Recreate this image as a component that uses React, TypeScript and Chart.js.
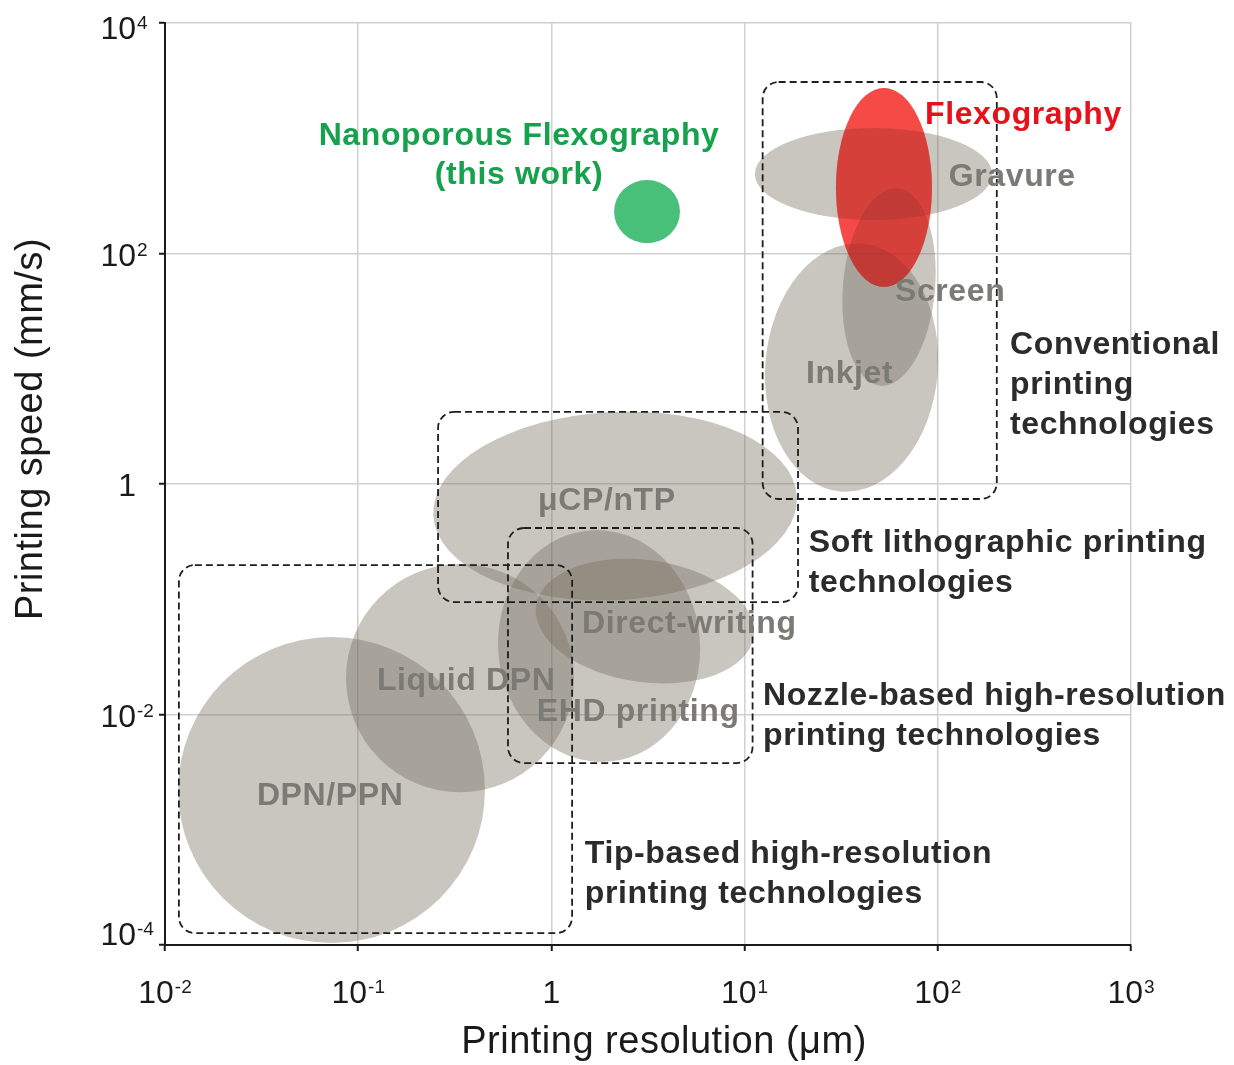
import React, { useEffect, useRef } from 'react';
import { Chart, registerables } from 'chart.js';

Chart.register(...registerables);

const FONT = "'Liberation Sans', Arial, Helvetica, sans-serif";

// ---- axes ----
const xTickValues = [0.01, 0.1, 1, 10, 100, 1000];
const xTickLabels = ['10^-2', '10^-1', '1', '10^1', '10^2', '10^3'];
const yTickValues = [1e-4, 1e-2, 1, 100, 1e4];
const yTickLabels = ['10^-4', '10^-2', '1', '10^2', '10^4'];
const xTitle = 'Printing resolution (μm)';
const yTitle = 'Printing speed (mm/s)';

// ---- technology regions: resolution range (µm) × speed range (mm/s) ----
const techNames = ['DPN/PPN', 'Liquid DPN', 'μCP/nTP', 'EHD printing', 'Direct-writing', 'Inkjet', 'Gravure', 'Screen', 'Flexography', 'Nanoporous Flexography'];
const techKind = ['other', 'other', 'other', 'other', 'other', 'other', 'other', 'other', 'flexo', 'this'];
const resMin = [0.0117, 0.0865, 0.244, 0.53, 0.822, 12.8, 11.3, 32.3, 29.7, 2.11];
const resMax = [0.453, 1.31, 18.7, 5.88, 11.3, 100, 191, 96.8, 93.3, 4.63];
const speedMin = [1.04e-4, 0.00212, 0.0985, 0.00387, 0.0191, 0.853, 195, 7.08, 51.2, 123];
const speedMax = [0.047, 0.202, 4.22, 0.399, 0.219, 123, 1227, 370, 2730, 434];
const tiltDeg = [0, 0, -3, -5, 8, 5, 0, 5, 0, 0];

// ---- technology groups (dashed boxes) ----
const groupNames = ['Conventional printing technologies', 'Soft lithographic printing technologies', 'Nozzle-based high-resolution printing technologies', 'Tip-based high-resolution printing technologies'];
const groupResMin = [12.4, 0.259, 0.596, 0.0118];
const groupResMax = [202, 18.9, 11.0, 1.28];
const groupSpeedMin = [0.741, 0.0946, 0.00379, 1.27e-4];
const groupSpeedMax = [3076, 4.22, 0.415, 0.198];

// ---- annotation labels (anchor in data coordinates) ----
const labelLines = [
  ['Nanoporous Flexography', '(this work)'],
  ['Flexography'],
  ['Gravure'],
  ['Screen'],
  ['Inkjet'],
  ['Conventional', 'printing', 'technologies'],
  ['μCP/nTP'],
  ['Soft lithographic printing', 'technologies'],
  ['Direct-writing'],
  ['Nozzle-based high-resolution', 'printing technologies'],
  ['Liquid DPN'],
  ['EHD printing'],
  ['DPN/PPN'],
  ['Tip-based high-resolution', 'printing technologies'],
];
const labelKind = ['this', 'flexo', 'tech', 'tech', 'tech', 'group', 'tech', 'group', 'tech', 'group', 'tech', 'tech', 'tech', 'group'];
const labelRes = [0.68, 85.9, 114, 60, 20.8, 236.5, 0.853, 21.5, 1.44, 12.45, 0.125, 0.841, 0.0299, 1.49];
const labelSpeed = [874, 1330, 385, 38.7, 7.52, 13.4, 0.594, 0.257, 0.0509, 0.01208, 0.01633, 0.00879, 0.00164, 5.14e-4];

// ---- styles ----
const fillStyles: Record<string, string> = {
  other: 'rgba(117,109,94,0.39)',
  flexo: 'rgb(245,74,70)',
  this: '#48c07a',
};
const labelStyles: Record<string, { color: string; align: CanvasTextAlign; lh: number }> = {
  this: { color: '#16a14c', align: 'center', lh: 39 },
  flexo: { color: '#e8101a', align: 'left', lh: 40 },
  tech: { color: '#7c7a75', align: 'left', lh: 40 },
  group: { color: '#2b2b2b', align: 'left', lh: 40 },
};

function drawPow(ctx: CanvasRenderingContext2D, label: string, x: number, baseline: number, mode: 'center' | 'right') {
  const [base, exp] = label.split('^');
  ctx.font = `32px ${FONT}`;
  const wb = ctx.measureText(base).width;
  ctx.font = `19px ${FONT}`;
  const we = exp ? ctx.measureText(exp).width + 1 : 0;
  const start = mode === 'center' ? x - (wb + we) / 2 : x - wb;
  ctx.textAlign = 'left';
  ctx.textBaseline = 'alphabetic';
  ctx.font = `32px ${FONT}`;
  ctx.fillText(base, start, baseline);
  if (exp) {
    ctx.font = `19px ${FONT}`;
    ctx.fillText(exp, start + wb + 1, baseline - 10);
  }
}

const regionsPlugin = {
  id: 'regions',
  beforeDatasetsDraw(chart: any) {
    const { ctx, scales } = chart;
    const x = scales.x, y = scales.y;
    ctx.save();
    techNames.forEach((_, i) => {
      const x0 = x.getPixelForValue(resMin[i]);
      const x1 = x.getPixelForValue(resMax[i]);
      const y0 = y.getPixelForValue(speedMax[i]);
      const y1 = y.getPixelForValue(speedMin[i]);
      const path = () => {
        ctx.beginPath();
        ctx.ellipse((x0 + x1) / 2, (y0 + y1) / 2, Math.abs(x1 - x0) / 2, Math.abs(y1 - y0) / 2, (tiltDeg[i] * Math.PI) / 180, 0, Math.PI * 2);
      };
      const kind = techKind[i];
      ctx.fillStyle = fillStyles[kind];
      if (kind === 'flexo') {
        // translucent red that darkens what lies beneath it
        path();
        ctx.globalCompositeOperation = 'multiply';
        ctx.fill();
        ctx.globalCompositeOperation = 'source-over';
        ctx.globalAlpha = 0.4;
        path();
        ctx.fill();
        ctx.globalAlpha = 1;
      } else {
        path();
        ctx.fill();
      }
    });
    ctx.setLineDash([7, 4]);
    ctx.lineWidth = 1.8;
    ctx.strokeStyle = '#1e1e1e';
    groupNames.forEach((_, i) => {
      const x0 = x.getPixelForValue(groupResMin[i]);
      const x1 = x.getPixelForValue(groupResMax[i]);
      const y0 = y.getPixelForValue(groupSpeedMax[i]);
      const y1 = y.getPixelForValue(groupSpeedMin[i]);
      ctx.beginPath();
      ctx.roundRect(x0, y0, x1 - x0, y1 - y0, 16);
      ctx.stroke();
    });
    ctx.restore();
  },
  afterDatasetsDraw(chart: any) {
    const { ctx, scales } = chart;
    const x = scales.x, y = scales.y;
    ctx.save();
    ctx.font = `bold 32px ${FONT}`;
    (ctx as any).letterSpacing = '0.6px';
    ctx.textBaseline = 'alphabetic';
    labelLines.forEach((lines, i) => {
      const st = labelStyles[labelKind[i]];
      const px = x.getPixelForValue(labelRes[i]);
      const py = y.getPixelForValue(labelSpeed[i]);
      ctx.fillStyle = st.color;
      ctx.textAlign = st.align;
      lines.forEach((t, k) => ctx.fillText(t, px, py + k * st.lh));
    });
    ctx.restore();
  },
  afterDraw(chart: any) {
    const { ctx, scales, chartArea } = chart;
    const x = scales.x, y = scales.y;
    ctx.save();
    ctx.fillStyle = '#1a1a1a';
    xTickValues.forEach((v, i) => {
      drawPow(ctx, xTickLabels[i], x.getPixelForValue(v), chartArea.bottom + 58, 'center');
    });
    yTickValues.forEach((v, i) => {
      const py = y.getPixelForValue(v);
      const base = Math.max(chartArea.top + 16, Math.min(chartArea.bottom, py + 12));
      drawPow(ctx, yTickLabels[i], chartArea.left - 29, base, 'right');
    });
    (ctx as any).letterSpacing = '0.5px';
    ctx.font = `38px ${FONT}`;
    ctx.textAlign = 'center';
    ctx.textBaseline = 'alphabetic';
    ctx.fillText(xTitle, (chartArea.left + chartArea.right) / 2 + 16, chartArea.bottom + 108);
    ctx.translate(chartArea.left - 123, (chartArea.top + chartArea.bottom) / 2 - 55);
    ctx.rotate(-Math.PI / 2);
    ctx.fillText(yTitle, 0, 0);
    ctx.restore();
  },
};

const axisCommon = {
  type: 'logarithmic' as const,
  ticks: { display: false },
  grid: { color: '#d0d0d0', lineWidth: 1.5, tickLength: 6, tickColor: '#1a1a1a', tickWidth: 2, drawTicks: true },
  border: { color: '#1a1a1a', width: 2 },
};

export default function App() {
  const ref = useRef<HTMLCanvasElement | null>(null);
  useEffect(() => {
    if (!ref.current) return;
    const chart = new Chart(ref.current, {
      type: 'scatter',
      data: { datasets: [] },
      options: {
        responsive: false,
        animation: false,
        layout: { padding: { left: 159, top: 23, right: 103, bottom: 114 } },
        plugins: { legend: { display: false }, tooltip: { enabled: false } },
        scales: {
          x: {
            ...axisCommon,
            min: 0.01,
            max: 1000,
            afterBuildTicks: (s: any) => {
              s.ticks = xTickValues.map((v) => ({ value: v }));
            },
          },
          y: {
            ...axisCommon,
            min: 1e-4,
            max: 1e4,
            afterBuildTicks: (s: any) => {
              s.ticks = yTickValues.map((v) => ({ value: v }));
            },
          },
        },
      } as any,
      plugins: [regionsPlugin],
    });
    return () => chart.destroy();
  }, []);
  return (
    <div style={{ position: 'fixed', left: 0, top: 0, width: 1234, height: 1065, background: '#ffffff' }}>
      <canvas ref={ref} width={1234} height={1065} style={{ display: 'block' }} />
    </div>
  );
}
